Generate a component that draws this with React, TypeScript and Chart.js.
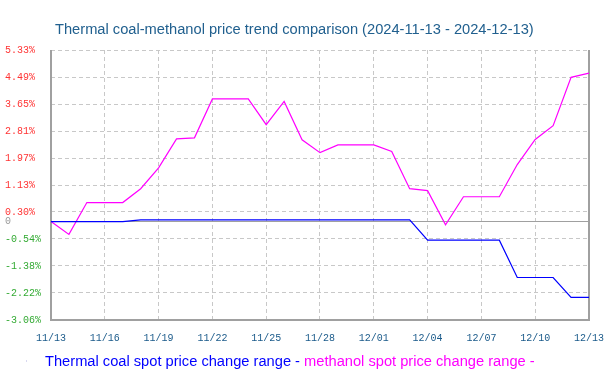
import React, { useEffect, useRef } from 'react';
import { Chart, registerables } from 'chart.js';

Chart.register(...registerables);

const dates = [
  '11/13', '11/14', '11/15', '11/16', '11/17', '11/18', '11/19', '11/20', '11/21', '11/22',
  '11/23', '11/24', '11/25', '11/26', '11/27', '11/28', '11/29', '11/30', '12/01', '12/02',
  '12/03', '12/04', '12/05', '12/06', '12/07', '12/08', '12/09', '12/10', '12/11', '12/12', '12/13',
];

const coalChange = [
  0, 0, 0, 0, 0, 0.05, 0.05, 0.05, 0.05, 0.05,
  0.05, 0.05, 0.05, 0.05, 0.05, 0.05, 0.05, 0.05, 0.05, 0.05,
  0.05, -0.58, -0.58, -0.58, -0.58, -0.58, -1.74, -1.74, -1.74, -2.36, -2.36,
];

const methanolChange = [
  0, -0.4, 0.59, 0.59, 0.59, 1.02, 1.67, 2.57, 2.6, 3.81,
  3.81, 3.81, 3.01, 3.73, 2.54, 2.14, 2.38, 2.38, 2.38, 2.18,
  1.02, 0.96, -0.1, 0.77, 0.77, 0.77, 1.77, 2.55, 2.98, 4.48, 4.61,
];

const yTickValues = [-3.06, -2.22, -1.38, -0.54, 0, 0.3, 1.13, 1.97, 2.81, 3.65, 4.49, 5.33];
const yMin = -3.06;
const yMax = 5.33;

const titleText = 'Thermal coal-methanol price trend comparison (2024-11-13 - 2024-12-13)';
const seriesNames = ['Thermal coal spot price change range - ', 'methanol spot price change range -'];
const seriesColors = ['#0000ff', '#ff00ff'];

const TEXT_FONT = "14.67px 'Liberation Sans', Arial, sans-serif";

const decorPlugin = {
  id: 'decor',
  beforeDatasetsDraw(chart: any) {
    const { ctx, chartArea } = chart;
    ctx.save();
    ctx.strokeStyle = '#a0a0a0';
    ctx.lineWidth = 2;
    ctx.beginPath();
    ctx.moveTo(chartArea.left, chartArea.top);
    ctx.lineTo(chartArea.left, chartArea.bottom);
    ctx.lineTo(chartArea.right, chartArea.bottom);
    ctx.lineTo(chartArea.right, chartArea.top);
    ctx.stroke();
    ctx.restore();
  },
  afterDraw(chart: any) {
    const { ctx } = chart;
    ctx.save();
    ctx.font = TEXT_FONT;
    ctx.textBaseline = 'alphabetic';
    ctx.textAlign = 'left';
    ctx.fillStyle = '#21608f';
    ctx.fillText(titleText, 55, 33.5);
    let x = 45;
    chart.data.datasets.forEach((ds: any, i: number) => {
      ctx.fillStyle = seriesColors[i];
      ctx.fillText(ds.label, x, 366);
      x += ctx.measureText(ds.label).width;
    });
    ctx.fillStyle = '#d8d8f0';
    ctx.fillRect(26, 360, 1, 2);
    ctx.restore();
  },
};

export default function App() {
  const ref = useRef<HTMLCanvasElement | null>(null);

  useEffect(() => {
    if (!ref.current) return;
    const chart = new Chart(ref.current, {
      type: 'line',
      data: {
        labels: dates,
        datasets: [
          {
            label: seriesNames[0],
            data: coalChange,
            borderColor: seriesColors[0],
            backgroundColor: seriesColors[0],
            borderWidth: 1.2,
            pointRadius: 0,
            tension: 0,
          },
          {
            label: seriesNames[1],
            data: methanolChange,
            borderColor: seriesColors[1],
            backgroundColor: seriesColors[1],
            borderWidth: 1.2,
            pointRadius: 0,
            tension: 0,
          },
        ],
      },
      options: {
        animation: false,
        responsive: false,
        devicePixelRatio: 1,
        layout: { padding: { left: 5, top: 50, right: 25.5, bottom: 0 } },
        plugins: {
          legend: { display: false },
          title: { display: false },
          tooltip: { enabled: false },
        },
        scales: {
          x: {
            type: 'category',
            offset: false,
            afterFit: (scale: any) => {
              scale.height = 63;
            },
            afterBuildTicks: (scale: any) => {
              scale.ticks = scale.ticks.filter((t: any) => t.value % 3 === 0);
            },
            grid: {
              color: '#c8c8c8',
              lineWidth: 1,
              drawTicks: false,
            },
            border: { display: false, dash: [4, 3] },
            ticks: {
              autoSkip: false,
              maxRotation: 0,
              padding: 12,
              color: '#1a5a8a',
              font: { family: "'Liberation Mono', 'DejaVu Sans Mono', monospace", size: 10 },
            },
          },
          y: {
            min: yMin,
            max: yMax,
            afterFit: (scale: any) => {
              scale.width = 46;
            },
            afterBuildTicks: (scale: any) => {
              scale.ticks = yTickValues.map((v) => ({ value: v }));
            },
            grid: {
              color: (c: any) => (c.tick && c.tick.value === 0 ? '#a0a0a0' : '#c8c8c8'),
              lineWidth: 1,
              drawTicks: false,
            },
            border: {
              display: false,
              dash: (c: any) => (c.tick && c.tick.value === 0 ? [] : [4, 3]),
            },
            ticks: {
              autoSkip: false,
              crossAlign: 'far',
              padding: 0,
              color: (c: any) => {
                const v = c.tick ? c.tick.value : 0;
                if (v > 0) return '#ff3333';
                if (v < 0) return '#33aa33';
                return '#999999';
              },
              font: { family: "'Liberation Mono', 'DejaVu Sans Mono', monospace", size: 10 },
              callback: (v: any) => (Number(v) === 0 ? '0' : Number(v).toFixed(2) + '%'),
            },
          },
        },
      },
      plugins: [decorPlugin],
    } as any);
    return () => chart.destroy();
  }, []);

  return (
    <div style={{ position: 'fixed', left: 0, top: 0, width: 616, height: 383, background: '#fff' }}>
      <canvas ref={ref} width={616} height={383} />
    </div>
  );
}
